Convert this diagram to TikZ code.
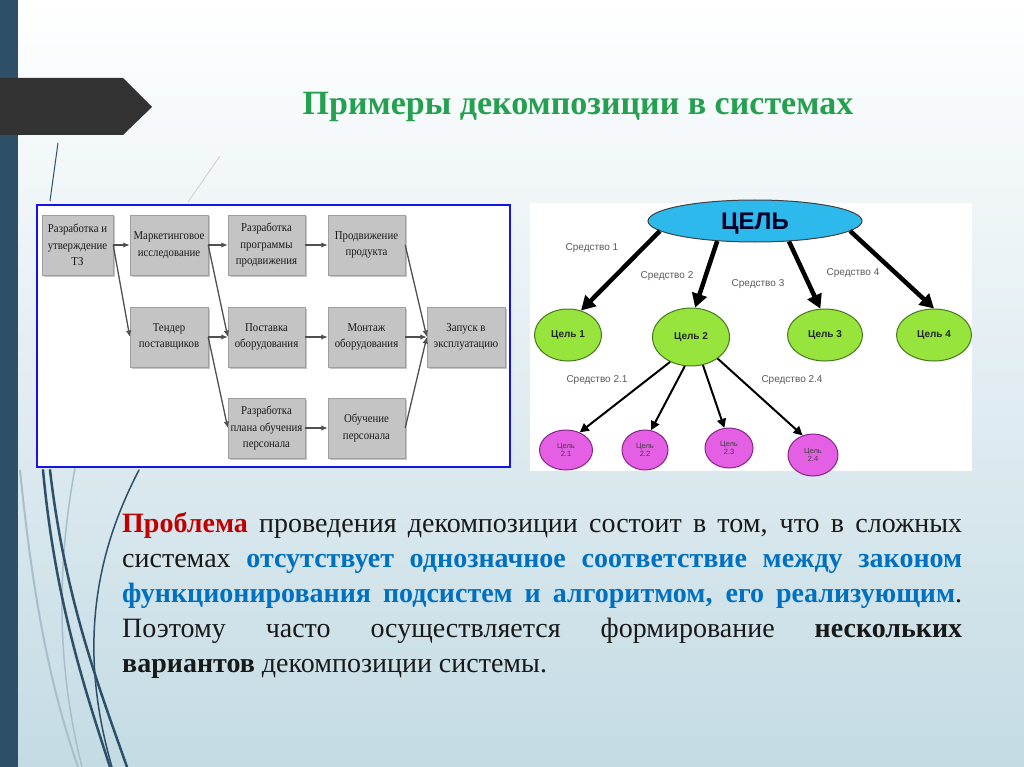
\documentclass[tikz,border=0pt]{standalone}
\usepackage{fontspec}
\setmainfont{Liberation Serif}
\newfontfamily\boxfont[FakeStretch=0.9]{Liberation Serif}
\newfontfamily\sansfont{Liberation Sans}
\usetikzlibrary{arrows.meta,shadows,shapes.geometric}
\definecolor{barblue}{RGB}{45,80,104}
\definecolor{banner}{RGB}{50,50,50}
\definecolor{titlegreen}{RGB}{36,160,80}
\definecolor{bgbot}{RGB}{196,219,228}
\definecolor{framblue}{RGB}{20,20,230}
\definecolor{boxgray}{RGB}{196,196,196}
\definecolor{arrgray}{RGB}{80,80,80}
\definecolor{cyanell}{RGB}{45,185,235}
\definecolor{limeell}{RGB}{150,228,60}
\definecolor{limeedge}{RGB}{70,120,30}
\definecolor{pinkell}{RGB}{228,95,228}
\definecolor{pinkedge}{RGB}{130,40,130}
\definecolor{probred}{RGB}{192,0,0}
\definecolor{parblue}{RGB}{0,112,192}
\definecolor{labgray}{RGB}{90,90,90}
\definecolor{lightcurve}{RGB}{168,190,202}
\definecolor{txtdark}{RGB}{25,25,25}
\begin{document}
\begin{tikzpicture}[x=1pt,y=-1pt,
  chbox/.style={draw=gray!75, fill=boxgray, drop shadow={shadow xshift=1.5pt,shadow yshift=-1.5pt,opacity=0.45}, align=center, inner sep=1pt, minimum height=60pt, font=\boxfont\fontsize{12}{16.5}\selectfont, text=black!90},
  charr/.style={draw=arrgray, line width=1.3pt, -{Latex[length=6.5pt,width=5.5pt]}},
  bigarr/.style={draw=black, line width=4.5pt, -{Triangle[length=14pt,width=15pt]}},
  smallarr/.style={draw=black, line width=2pt, -{Triangle[length=9pt,width=9pt]}},
  goal/.style={ellipse, draw=limeedge, line width=1pt, fill=limeell, inner sep=0pt, font=\sansfont\bfseries\fontsize{10}{12}\selectfont, text=black!85},
  subgoal/.style={ellipse, draw=pinkedge, line width=1pt, fill=pinkell, inner sep=0pt, align=center, font=\sansfont\fontsize{7.5}{8.5}\selectfont, text=black!75},
  meanslab/.style={font=\sansfont\fontsize{10}{12}\selectfont, text=labgray, inner sep=0pt},
  deco/.style={draw=barblue, line cap=round}
]
\useasboundingbox (0,0) rectangle (1024,767);
\shade[top color=white, bottom color=bgbot] (0,0) rectangle (1024,767);

% decorative curves
\draw[deco, line width=1pt] (58,143) .. controls (54,172) .. (50,201);
\draw[draw=gray!40, line width=0.8pt] (220,156) -- (188,202);
\draw[draw=lightcurve, line width=2pt] (20,470) .. controls (35,620) and (55,700) .. (78,767);
\draw[draw=lightcurve, line width=1.5pt] (75,468) .. controls (58,560) and (55,660) .. (82,767);
\draw[deco, line width=2.5pt] (43,470) .. controls (55,600) and (85,690) .. (110,767);
\draw[deco, line width=2.5pt] (50,470) .. controls (65,600) and (100,690) .. (127,767);
\draw[deco, line width=1.5pt] (139,470) .. controls (100,545) and (75,640) .. (112,767);

% left bar and banner
\fill[barblue] (0,0) rectangle (18,767);
\fill[banner] (0,78) -- (123,78) -- (152,107) -- (123,135) -- (0,135) -- cycle;

% title
\node[font=\bfseries\fontsize{34}{40}\selectfont, text=titlegreen] (title) at (578,107) {Примеры декомпозиции в системах};

% left diagram
\draw[draw=framblue, line width=2.5pt, fill=white] (37,205) rectangle (510,467);
\node[chbox, minimum width=71pt] (b1) at (77.5,245) {Разработка и\\утверждение\\ТЗ};
\node[chbox, minimum width=78pt] (b2) at (169,245) {Маркетинговое\\исследование};
\node[chbox, minimum width=78pt] (b3) at (169,337) {Тендер\\поставщиков};
\node[chbox, minimum width=77pt] (c31) at (266.5,245) {Разработка\\программы\\продвижения};
\node[chbox, minimum width=77pt] (c32) at (266.5,337) {Поставка\\оборудования};
\node[chbox, minimum width=77pt] (c33) at (266.5,428) {Разработка\\плана обучения\\персонала};
\node[chbox, minimum width=77pt] (c41) at (366.5,245) {Продвижение\\продукта};
\node[chbox, minimum width=77pt] (c42) at (366.5,337) {Монтаж\\оборудования};
\node[chbox, minimum width=77pt] (c43) at (366.5,428) {Обучение\\персонала};
\node[chbox, minimum width=78pt] (z) at (466,337) {Запуск в\\эксплуатацию};
\draw[charr] (b1.east) -- (b2.west);
\draw[charr] (b1.east) -- (b3.west);
\draw[charr] (b2.east) -- (c31.west);
\draw[charr] (b2.east) -- (c32.west);
\draw[charr] (b3.east) -- (c32.west);
\draw[charr] (b3.east) -- (c33.west);
\draw[charr] (c31.east) -- (c41.west);
\draw[charr] (c32.east) -- (c42.west);
\draw[charr] (c33.east) -- (c43.west);
\draw[charr] (c41.east) -- (z.west);
\draw[charr] (c42.east) -- (z.west);
\draw[charr] (c43.east) -- (z.west);

% right diagram
\fill[white] (530,203) rectangle (972,471);
\node[ellipse, draw=black!75, line width=1pt, fill=cyanell, minimum width=214pt, minimum height=42pt, inner sep=0pt, text depth=0pt, font=\sansfont\bfseries\fontsize{24}{26}\selectfont, text=black!85!blue] (cel) at (755,221) {ЦЕЛЬ};
\node[goal, minimum width=67pt, minimum height=52pt] (g1) at (568,335) {Цель 1};
\node[goal, minimum width=77pt, minimum height=58pt] (g2) at (691,337) {Цель 2};
\node[goal, minimum width=75pt, minimum height=52pt] (g3) at (825,335) {Цель 3};
\node[goal, minimum width=75pt, minimum height=52pt] (g4) at (934,335) {Цель 4};
\draw[bigarr] (cel.186) -- (g1.62);
\draw[bigarr] (cel.208) -- (g2.82);
\draw[bigarr] (cel.329) -- (g3.100);
\draw[bigarr] (cel.354) -- (g4.90);
\node[meanslab] (m1) at (592,248) {Средство 1};
\node[meanslab] (m2) at (667,276) {Средство 2};
\node[meanslab] (m3) at (758,284) {Средство 3};
\node[meanslab] (m4) at (853,273) {Средство 4};
\node[subgoal, minimum width=53pt, minimum height=40pt] (p1) at (566,450) {Цель\\2.1};
\node[subgoal, minimum width=46pt, minimum height=40pt] (p2) at (645,450) {Цель\\2.2};
\node[subgoal, minimum width=48pt, minimum height=40pt] (p3) at (729,448) {Цель\\2.3};
\node[subgoal, minimum width=50pt, minimum height=42pt] (p4) at (813,455) {Цель\\2.4};
\draw[smallarr] (g2.230) -- (p1.52);
\draw[smallarr] (g2.258) -- (p2.73);
\draw[smallarr] (g2.293) -- (p3.103);
\draw[smallarr] (g2.321) -- (p4.118);
\node[meanslab] (m21) at (597,380) {Средство 2.1};
\node[meanslab] (m24) at (792,380) {Средство 2.4};

% paragraph
\node[anchor=north west, inner sep=0pt, text width=840pt, align=justify, text=txtdark,
      font=\fontsize{28}{35}\selectfont] (para) at (122,512) {%
{\color{probred}\bfseries Проблема} проведения декомпозиции состоит в том, что в сложных\linebreak
системах {\color{parblue}\bfseries отсутствует однозначное соответствие между законом}\linebreak
{\color{parblue}\bfseries функционирования подсистем и алгоритмом, его реализующим}.\linebreak
Поэтому часто осуществляется формирование {\bfseries нескольких}\linebreak
{\bfseries вариантов} декомпозиции системы.};
\end{tikzpicture}
\end{document}
